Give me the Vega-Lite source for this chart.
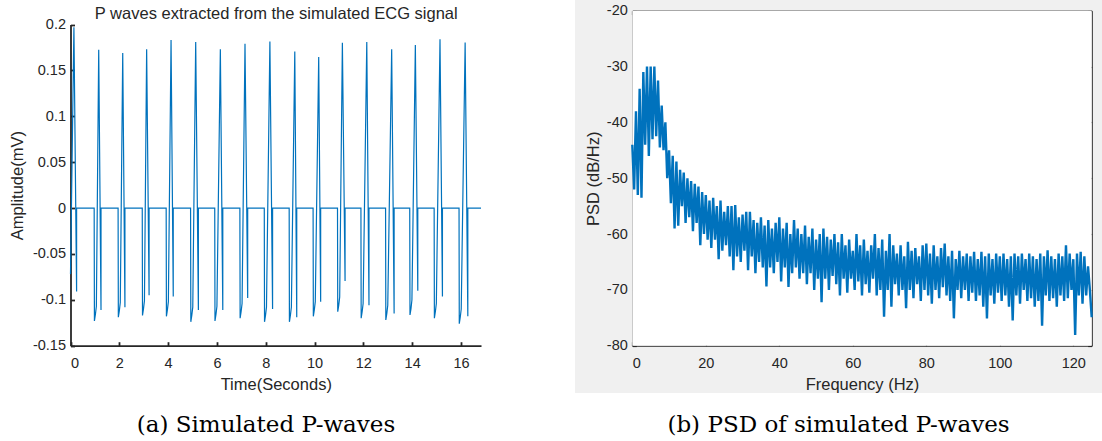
{
  "$schema": "https://vega.github.io/schema/vega-lite/v6.json",
  "padding": 0,
  "background": "white",
  "spacing": 43,
  "config": {
    "view": {"stroke": null},
    "font": "Liberation Sans",
    "axis": {
      "grid": false,
      "domainColor": "#262626",
      "tickColor": "#262626",
      "labelColor": "#262626",
      "titleColor": "#262626",
      "labelFont": "Liberation Sans",
      "titleFont": "Liberation Sans",
      "labelFontSize": 14.5,
      "titleFontSize": 16.5,
      "titleFontWeight": "normal",
      "zindex": 1,
      "tickSize": -4
    },
    "title": {
      "font": "DejaVu Serif",
      "fontSize": 23,
      "fontWeight": "normal",
      "color": "black",
      "orient": "bottom",
      "baseline": "top",
      "offset": 20.5
    }
  },
  "datasets": {
    "pw": [
      {"t":0,"v":-0.072},{"t":0.14,"v":0.197},{"t":0.25,"v":-0.091},{"t":0.25,"v":0},
      {"t":0.97,"v":0},{"t":0.98,"v":-0.123},{"t":1.02,"v":-0.116},{"t":1.06,"v":-0.107},{"t":1.156,"v":0.1725},{"t":1.25,"v":-0.111},{"t":1.25,"v":0},
      {"t":1.95,"v":0},{"t":1.96,"v":-0.119},{"t":2.0,"v":-0.112},{"t":2.04,"v":-0.103},{"t":2.14,"v":0.169},{"t":2.23,"v":-0.108},{"t":2.23,"v":0},
      {"t":2.94,"v":0},{"t":2.95,"v":-0.117},{"t":2.99,"v":-0.11},{"t":3.03,"v":-0.101},{"t":3.12,"v":0.173},{"t":3.22,"v":-0.095},{"t":3.22,"v":0},
      {"t":3.92,"v":0},{"t":3.93,"v":-0.118},{"t":3.97,"v":-0.111},{"t":4.01,"v":-0.102},{"t":4.12,"v":0.183},{"t":4.21,"v":-0.0965},{"t":4.21,"v":0},
      {"t":4.92,"v":0},{"t":4.93,"v":-0.124},{"t":4.97,"v":-0.117},{"t":5.01,"v":-0.108},{"t":5.13,"v":0.181},{"t":5.24,"v":-0.111},{"t":5.24,"v":0},
      {"t":5.91,"v":0},{"t":5.92,"v":-0.123},{"t":5.96,"v":-0.116},{"t":6.0,"v":-0.107},{"t":6.14,"v":0.173},{"t":6.24,"v":-0.111},{"t":6.24,"v":0},
      {"t":6.94,"v":0},{"t":6.95,"v":-0.12},{"t":6.99,"v":-0.113},{"t":7.03,"v":-0.104},{"t":7.15,"v":0.179},{"t":7.26,"v":-0.098},{"t":7.26,"v":0},
      {"t":7.94,"v":0},{"t":7.95,"v":-0.124},{"t":7.99,"v":-0.117},{"t":8.03,"v":-0.108},{"t":8.17,"v":0.1816},{"t":8.28,"v":-0.11},{"t":8.28,"v":0},
      {"t":8.96,"v":0},{"t":8.97,"v":-0.124},{"t":9.01,"v":-0.117},{"t":9.05,"v":-0.108},{"t":9.19,"v":0.1707},{"t":9.27,"v":-0.119},{"t":9.27,"v":0},
      {"t":9.94,"v":0},{"t":9.95,"v":-0.118},{"t":9.99,"v":-0.111},{"t":10.03,"v":-0.102},{"t":10.17,"v":0.1645},{"t":10.25,"v":-0.102},{"t":10.25,"v":0},
      {"t":10.94,"v":0},{"t":10.95,"v":-0.113},{"t":10.99,"v":-0.106},{"t":11.03,"v":-0.097},{"t":11.14,"v":0.18},{"t":11.25,"v":-0.0794},{"t":11.25,"v":0},
      {"t":11.9,"v":0},{"t":11.91,"v":-0.12},{"t":11.95,"v":-0.113},{"t":11.99,"v":-0.104},{"t":12.14,"v":0.181},{"t":12.23,"v":-0.106},{"t":12.23,"v":0},
      {"t":12.91,"v":0},{"t":12.92,"v":-0.122},{"t":12.96,"v":-0.115},{"t":13.0,"v":-0.106},{"t":13.16,"v":0.173},{"t":13.26,"v":-0.115},{"t":13.26,"v":0},
      {"t":13.9,"v":0},{"t":13.91,"v":-0.1165},{"t":13.95,"v":-0.11},{"t":13.99,"v":-0.1},{"t":14.13,"v":0.1776},{"t":14.23,"v":-0.09},{"t":14.23,"v":0},
      {"t":14.9,"v":0},{"t":14.91,"v":-0.12},{"t":14.95,"v":-0.113},{"t":14.99,"v":-0.104},{"t":15.14,"v":0.184},{"t":15.24,"v":-0.0965},{"t":15.24,"v":0},
      {"t":15.92,"v":0},{"t":15.93,"v":-0.126},{"t":15.97,"v":-0.119},{"t":16.01,"v":-0.11},{"t":16.17,"v":0.1805},{"t":16.28,"v":-0.118},{"t":16.28,"v":0},
      {"t":16.82,"v":0}
    ],
    "psd": [
      {"f":0,"p":-44},{"f":0.5,"p":-52},{"f":1,"p":-38},{"f":1.5,"p":-53},{"f":2,"p":-34},{"f":2.5,"p":-53.5},{"f":3,"p":-31},{"f":3.5,"p":-44},{"f":4,"p":-30},{"f":4.5,"p":-46},
      {"f":5,"p":-30},{"f":5.5,"p":-43},{"f":6,"p":-30},{"f":6.5,"p":-42.5},{"f":7,"p":-32.5},{"f":7.5,"p":-44.5},{"f":8,"p":-37},{"f":8.5,"p":-45},{"f":9,"p":-40},{"f":9.5,"p":-50},
      {"f":10,"p":-45},{"f":10.5,"p":-54.5},{"f":11,"p":-46},{"f":11.5,"p":-59},{"f":12,"p":-47},{"f":12.5,"p":-58.5},{"f":13,"p":-48.5},{"f":13.5,"p":-55},{"f":14,"p":-49},{"f":14.5,"p":-58},
      {"f":15,"p":-50},{"f":15.5,"p":-57},{"f":16,"p":-50.5},{"f":16.5,"p":-59.5},{"f":17,"p":-51},{"f":17.5,"p":-58},{"f":18,"p":-51.5},{"f":18.5,"p":-62},{"f":19,"p":-52.5},{"f":19.5,"p":-60},
      {"f":20,"p":-53},{"f":20.5,"p":-61},{"f":21,"p":-54},{"f":21.5,"p":-62.5},{"f":22,"p":-53.5},{"f":22.5,"p":-61},{"f":23,"p":-55},{"f":23.5,"p":-64.5},{"f":24,"p":-54},{"f":24.5,"p":-63},
      {"f":25,"p":-56},{"f":25.5,"p":-62},{"f":26,"p":-55},{"f":26.5,"p":-64},{"f":27,"p":-55},{"f":27.5,"p":-66.5},{"f":28,"p":-54.8},{"f":28.5,"p":-64},{"f":29,"p":-57},{"f":29.5,"p":-65},
      {"f":30,"p":-56.5},{"f":30.5,"p":-63},{"f":31,"p":-56},{"f":31.5,"p":-66.5},{"f":32,"p":-56},{"f":32.5,"p":-64},{"f":33,"p":-57.5},{"f":33.5,"p":-67},{"f":34,"p":-58},{"f":34.5,"p":-65},
      {"f":35,"p":-57},{"f":35.5,"p":-66},{"f":36,"p":-58.5},{"f":36.5,"p":-69.4},{"f":37,"p":-57.5},{"f":37.5,"p":-66},{"f":38,"p":-59},{"f":38.5,"p":-67},{"f":39,"p":-58},{"f":39.5,"p":-65},
      {"f":40,"p":-57},{"f":40.5,"p":-68.5},{"f":41,"p":-59},{"f":41.5,"p":-66},{"f":42,"p":-58},{"f":42.5,"p":-69.5},{"f":43,"p":-60},{"f":43.5,"p":-67},{"f":44,"p":-57.5},{"f":44.5,"p":-66},
      {"f":45,"p":-59},{"f":45.5,"p":-68},{"f":46,"p":-60},{"f":46.5,"p":-67},{"f":47,"p":-58.5},{"f":47.5,"p":-69},{"f":48,"p":-60.5},{"f":48.5,"p":-67},{"f":49,"p":-59},{"f":49.5,"p":-70},
      {"f":50,"p":-61},{"f":50.5,"p":-68},{"f":51,"p":-60},{"f":51.5,"p":-72.2},{"f":52,"p":-59},{"f":52.5,"p":-68},{"f":53,"p":-60.5},{"f":53.5,"p":-70},{"f":54,"p":-61},{"f":54.5,"p":-67.5},
      {"f":55,"p":-60},{"f":55.5,"p":-69},{"f":56,"p":-61.5},{"f":56.5,"p":-71},{"f":57,"p":-60},{"f":57.5,"p":-68},{"f":58,"p":-62},{"f":58.5,"p":-70.5},{"f":59,"p":-61},{"f":59.5,"p":-68},
      {"f":60,"p":-63},{"f":60.5,"p":-70},{"f":61,"p":-60},{"f":61.5,"p":-68.5},{"f":62,"p":-62},{"f":62.5,"p":-71},{"f":63,"p":-61},{"f":63.5,"p":-69},{"f":64,"p":-63},{"f":64.5,"p":-70.5},
      {"f":65,"p":-62},{"f":65.5,"p":-68},{"f":66,"p":-60},{"f":66.5,"p":-71},{"f":67,"p":-62.5},{"f":67.5,"p":-70},{"f":68,"p":-61},{"f":68.5,"p":-74.8},{"f":69,"p":-63},{"f":69.5,"p":-70},
      {"f":70,"p":-60},{"f":70.5,"p":-73},{"f":71,"p":-62},{"f":71.5,"p":-69},{"f":72,"p":-63.5},{"f":72.5,"p":-71},{"f":73,"p":-62},{"f":73.5,"p":-70},{"f":74,"p":-64},{"f":74.5,"p":-73.3},
      {"f":75,"p":-61.4},{"f":75.5,"p":-70},{"f":76,"p":-63},{"f":76.5,"p":-71.5},{"f":77,"p":-62.5},{"f":77.5,"p":-69},{"f":78,"p":-64},{"f":78.5,"p":-72},{"f":79,"p":-62},{"f":79.5,"p":-70},
      {"f":80,"p":-61.7},{"f":80.5,"p":-71},{"f":81,"p":-63.5},{"f":81.5,"p":-72.5},{"f":82,"p":-62},{"f":82.5,"p":-70},{"f":83,"p":-64},{"f":83.5,"p":-71.5},{"f":84,"p":-62.5},{"f":84.5,"p":-69.5},
      {"f":85,"p":-61.7},{"f":85.5,"p":-71},{"f":86,"p":-64},{"f":86.5,"p":-72},{"f":87,"p":-63},{"f":87.5,"p":-75.1},{"f":88,"p":-64.5},{"f":88.5,"p":-70},{"f":89,"p":-63},{"f":89.5,"p":-71.5},
      {"f":90,"p":-64},{"f":90.5,"p":-70},{"f":91,"p":-63.5},{"f":91.5,"p":-72},{"f":92,"p":-64},{"f":92.5,"p":-70.5},{"f":93,"p":-63.2},{"f":93.5,"p":-72},{"f":94,"p":-64.5},{"f":94.5,"p":-71},
      {"f":95,"p":-63.2},{"f":95.5,"p":-73},{"f":96,"p":-64},{"f":96.5,"p":-75.1},{"f":97,"p":-63.5},{"f":97.5,"p":-71},{"f":98,"p":-64.5},{"f":98.5,"p":-72.5},{"f":99,"p":-63.5},{"f":99.5,"p":-70.5},
      {"f":100,"p":-64},{"f":100.5,"p":-72},{"f":101,"p":-63.5},{"f":101.5,"p":-71},{"f":102,"p":-64.5},{"f":102.5,"p":-73},{"f":103,"p":-64},{"f":103.5,"p":-75.5},{"f":104,"p":-63.5},{"f":104.5,"p":-71},
      {"f":105,"p":-64},{"f":105.5,"p":-72.5},{"f":106,"p":-63.5},{"f":106.5,"p":-70},{"f":107,"p":-64.5},{"f":107.5,"p":-72},{"f":108,"p":-63.5},{"f":108.5,"p":-71.5},{"f":109,"p":-64},{"f":109.5,"p":-73},
      {"f":110,"p":-64.5},{"f":110.5,"p":-72},{"f":111,"p":-63.5},{"f":111.5,"p":-76.4},{"f":112,"p":-64},{"f":112.5,"p":-71},{"f":113,"p":-62.9},{"f":113.5,"p":-72},{"f":114,"p":-64},{"f":114.5,"p":-71.5},
      {"f":115,"p":-64.5},{"f":115.5,"p":-73},{"f":116,"p":-63.5},{"f":116.5,"p":-71},{"f":117,"p":-64},{"f":117.5,"p":-72},{"f":118,"p":-62},{"f":118.5,"p":-71.5},{"f":119,"p":-63.5},{"f":119.5,"p":-70},
      {"f":120,"p":-64.5},{"f":120.5,"p":-78.1},{"f":121,"p":-63.5},{"f":121.5,"p":-71},{"f":122,"p":-63.2},{"f":122.5,"p":-72.5},{"f":123,"p":-64},{"f":123.5,"p":-71},{"f":124,"p":-65.8},{"f":124.5,"p":-70},
      {"f":125,"p":-74.9}
    ]
  },
  "hconcat": [
    {
      "width": 532,
      "height": 393,
      "view": {"fill": "white", "stroke": null},
      "title": {"text": "(a) Simulated P-waves"},
      "data": {"name": "pw"},
      "layer": [
        {
          "mark": {"type": "line", "color": "#0072BD", "strokeWidth": 1.2},
          "encoding": {
            "x": {
              "field": "t", "type": "quantitative",
              "scale": {"domain": [0, 16.82], "range": [70.5, 481], "nice": false, "zero": false},
              "axis": {"orient": "bottom", "offset": -47.3, "values": [0,2,4,6,8,10,12,14,16], "title": "Time(Seconds)", "titleY": 43.3, "titleBaseline": "alphabetic", "domainWidth": 1.8, "tickWidth": 1.8, "labelPadding": 15}
            },
            "y": {
              "field": "v", "type": "quantitative",
              "scale": {"domain": [-0.15, 0.2], "range": [345.7, 24.5], "nice": false, "zero": false},
              "axis": {"orient": "left", "offset": -70.5, "values": [-0.15,-0.1,-0.05,0,0.05,0.1,0.15,0.2], "labelExpr": "(datum.value < 0 ? '-' : '') + format(abs(datum.value), '~g')", "title": "Amplitude(mV)", "titleX": -48.5, "titleBaseline": "alphabetic", "domainWidth": 1.8, "tickWidth": 1.8, "labelPadding": 9}
            },
            "order": {"value": null}
          }
        },
        {
          "mark": {"type": "point", "opacity": 0},
          "encoding": {
            "x": {
              "field": "t", "type": "quantitative",
              "axis": {"orient": "top", "domain": false, "ticks": false, "labels": false, "title": "P waves extracted from the simulated ECG signal", "titleY": 18.3, "titleBaseline": "alphabetic"}
            }
          }
        }
      ],
      "resolve": {"axis": {"x": "independent"}}
    },
    {
      "width": 527,
      "height": 393,
      "view": {"fill": "#f0f0f0", "stroke": null},
      "title": {"text": "(b) PSD of simulated P-waves"},
      "layer": [
        {
          "data": {"values": [{}]},
          "mark": {"type": "rect", "fill": "white"},
          "encoding": {
            "x": {"datum": 0, "type": "quantitative", "scale": {"domain": [0, 125], "range": [57.3, 516.7], "nice": false, "zero": false}, "axis": null},
            "x2": {"datum": 125},
            "y": {"datum": -80, "type": "quantitative", "scale": {"domain": [-80, -20], "range": [345.7, 10.7], "nice": false, "zero": false}, "axis": null},
            "y2": {"datum": -20}
          }
        },
        {
          "data": {"name": "psd"},
          "mark": {"type": "line", "color": "#0072BD", "strokeWidth": 2.4},
          "encoding": {
            "x": {"field": "f", "type": "quantitative", "axis": {"orient": "bottom", "offset": -47.3, "values": [0,20,40,60,80,100,120], "title": "Frequency (Hz)", "titleY": 43.3, "titleBaseline": "alphabetic", "domainWidth": 1.2, "tickWidth": 1.2, "labelPadding": 15}},
            "y": {"field": "p", "type": "quantitative", "axis": {"orient": "left", "offset": -57.3, "values": [-80,-70,-60,-50,-40,-30,-20], "labelExpr": "(datum.value < 0 ? '-' : '') + format(abs(datum.value), 'd')", "title": "PSD (dB/Hz)", "titleX": -34.3, "titleBaseline": "alphabetic", "domainWidth": 1.2, "tickWidth": 1.2, "labelPadding": 9}}
          }
        },
        {
          "data": {"name": "psd"},
          "mark": {"type": "point", "opacity": 0},
          "encoding": {
            "x": {"field": "f", "type": "quantitative", "axis": {"orient": "top", "offset": -10.7, "values": [0,20,40,60,80,100,120], "labels": false, "title": null, "domainWidth": 1.2, "tickWidth": 1.2}},
            "y": {"field": "p", "type": "quantitative", "axis": {"orient": "right", "offset": -10.3, "values": [-80,-70,-60,-50,-40,-30,-20], "labels": false, "title": null, "domainWidth": 1.2, "tickWidth": 1.2}}
          }
        }
      ],
      "resolve": {"axis": {"x": "independent", "y": "independent"}}
    }
  ]
}
